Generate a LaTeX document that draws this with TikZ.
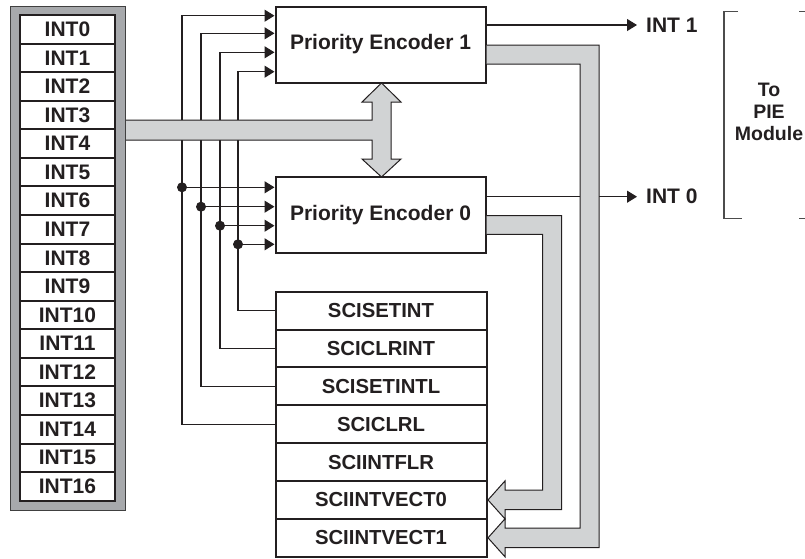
\documentclass[tikz,border=0pt]{standalone}
\usepackage{fontspec}
\setmainfont{Liberation Sans}
\usetikzlibrary{arrows.meta,calc}
\definecolor{busgray}{RGB}{209,211,212}
\definecolor{panelgray}{RGB}{167,169,172}
\definecolor{ink}{RGB}{35,31,32}
\begin{document}
\begin{tikzpicture}[x=1pt,y=-1pt,
  font=\fontsize{21}{24}\selectfont\bfseries,
  box/.style={draw=ink, line width=2pt, fill=white, inner sep=0pt, text=ink},
  cell/.style={box, minimum width=95pt, minimum height=28.57pt},
  reg/.style={box, minimum width=211pt, minimum height=37.86pt, font=\fontsize{20.3}{23}\selectfont\bfseries},
  enc/.style={box, minimum width=210pt, minimum height=76pt},
  wire/.style={draw=ink, line width=1.2pt},
  arr/.style={wire, -{Triangle[length=10pt,width=12pt]}},
  bus/.style={fill=busgray, draw=ink, line width=1pt, line join=miter},
  dotnode/.style={circle, fill=ink, inner sep=0pt, minimum size=10pt},
  brk/.style={draw=black!70, line width=1.4pt}]
\useasboundingbox (0,0) rectangle (805,558);

% left panel
\node[draw=black!75, fill=panelgray, line width=1pt, minimum width=115pt, minimum height=504pt, inner sep=0pt] (panel) at (67.5,258) {};
\foreach \i in {0,...,16}{
  \node[cell] (i\i) at (67.5,{15+14.285+28.57*\i}) {INT\i};
}

% encoders
\node[enc] (pe1) at (380.5,44.5) {Priority Encoder 1};
\node[enc] (pe0) at (380.5,215) {Priority Encoder 0};

% registers
\foreach \n [count=\k from 0] in {SCISETINT,SCICLRINT,SCISETINTL,SCICLRL,SCIINTFLR,SCIINTVECT0,SCIINTVECT1}{
  \node[reg] (r\k) at (381,{291.7+18.93+37.86*\k}) {\n};
}

% tap points
\coordinate (a0) at (182,15.7);
\coordinate (a1) at (201,33.3);
\coordinate (a2) at (220,52.3);
\coordinate (a3) at (238,71.7);
\node[dotnode] (d0) at (182,187.3) {};
\node[dotnode] (d1) at (201,206.7) {};
\node[dotnode] (d2) at (220,225.7) {};
\node[dotnode] (d3) at (238,244.3) {};

% wires
\draw[arr] (r3.west) -| (a0) -- (a0 -| pe1.west);
\draw[arr] (r2.west) -| (a1) -- (a1 -| pe1.west);
\draw[arr] (r1.west) -| (a2) -- (a2 -| pe1.west);
\draw[arr] (r0.west) -| (a3) -- (a3 -| pe1.west);
\foreach \j in {0,...,3}{
  \draw[arr] (d\j.center) -- (d\j -| pe0.west);
}
% outputs
\coordinate (o1) at (637,25);
\coordinate (o0) at (637,196.7);
\draw[arr] (o1 -| pe1.east) -- (o1);
\draw[arr] (o0 -| pe0.east) -- (o0);
\node[anchor=west, text=ink, inner sep=0pt] (int1) at (646,25) {INT 1};
\node[anchor=west, text=ink, inner sep=0pt] (int0) at (646,196.7) {INT 0};

% main bus with double arrow
\draw[bus] ([xshift=0.5pt]panel.east |- 0,120) -- (372,120) -- (372,102) -- (362,102) -- (381.5,83)
  -- (401,102) -- (391,102) -- (391,159) -- (401,159) -- (381.5,177) -- (362,159)
  -- (372,159) -- (372,140) -- ([xshift=0.5pt]panel.east |- 0,140);
% PE1 -> SCIINTVECT1
\draw[bus] (486.5,45) -- (599,45) -- (599,547.5) -- (505,547.5) -- (505,556.8)
  -- ([xshift=0.5pt]r6.east) -- (505,518.8) -- (505,528.1) -- (580,528.1) -- (580,64) -- (486.5,64);
% PE0 -> SCIINTVECT0
\draw[bus] (486.5,215.7) -- (561.7,215.7) -- (561.7,509.6) -- (505,509.6) -- (505,518.9)
  -- ([xshift=0.5pt]r5.east) -- (505,480.9) -- (505,490.2) -- (542.5,490.2) -- (542.5,234.3) -- (486.5,234.3);

% bracket to PIE
\draw[brk] (738,11.7) -- (724,11.7) -- (724,218.3) -- (741.7,218.3);
\draw[brk] (799,11.7) -- (806,11.7);
\draw[brk] (799,218.3) -- (806,218.3);
\node[align=center, text=ink, inner sep=0pt, font=\fontsize{19.5}{21.7}\selectfont\bfseries] (pie) at (769,112) {To\\PIE\\Module};
\end{tikzpicture}
\end{document}
